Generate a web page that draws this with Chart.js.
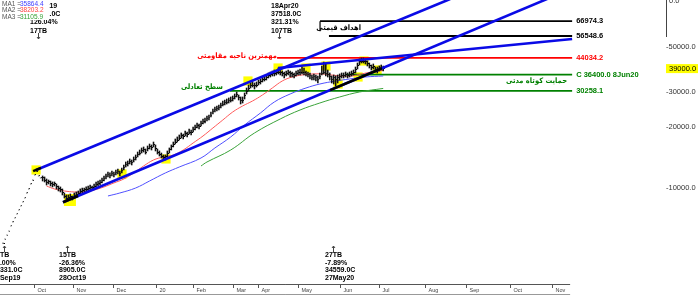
<!DOCTYPE html>
<html>
<head>
<meta charset="utf-8">
<script src="https://cdn.jsdelivr.net/npm/chart.js@4.4.0/dist/chart.umd.min.js"></script>
<style>
body { margin: 0; background: #fff; }
</style>
</head>
<body>
<canvas id="chart" width="700" height="295"></canvas>
<script>
// daily bars, index 0 = the Sep19 low
var closes = [5331,5590,5850,6123,6485,6790,7105,7437,7782,8145,8525,8925,9445,9890,10470,10950,11600,12092,11470,11210,
  11210,10950,10590,10710,10470,10350,10470,10120,9890,9775,9445,9025,8905,8925,9025,8925,9130,9235,9340,9555,
  9665,9775,9775,9890,10000,10000,10120,10350,10470,10590,10830,11080,11340,11600,11470,11730,11600,11870,12000,11730,
  12140,12560,13000,13150,13450,13300,13760,14080,14570,14900,15250,15420,15070,15600,15960,15780,16330,15600,15070,14730,
  14400,14080,14240,14900,15420,15960,16330,16890,17280,17680,18090,17890,18510,18300,18930,18720,19370,19820,20280,20050,
  20740,21220,21460,21960,22210,22980,23780,24330,24610,24890,25470,26050,26350,26650,26960,27265,27580,28220,28870,27900,
  26960,27265,28540,30210,31260,31990,32350,31990,32350,33100,33480,34250,34640,35040,35850,36260,36680,36680,37100,37518,
  37100,36680,36260,36680,37100,36680,36260,35850,36680,37100,37100,37300,37100,36680,36260,35850,35040,35440,35040,34640,
  35440,36680,37100,36680,36260,35440,34559,35040,34640,35040,35440,35850,35850,36260,35850,36260,36680,37100,38385,40180,
  42050,42530,42530,42050,41110,40180,39270,39720,38385,38385,38830,39270,39000];
var highs = [5331,5590,5850,6123,6485,6790,7105,7437,7782,8145,8525,8925,9445,9890,10470,10950,11600,12092,11470,11210,
  11470,11340,11080,10950,10830,10710,10710,10470,10230,10120,9890,9445,9235,9235,9340,9130,9445,9555,9665,9890,
  10000,10000,10120,10230,10350,10230,10470,10710,10830,10950,11210,11470,11730,12000,11870,12140,12000,12280,12420,12140,
  12560,13000,13450,13600,13920,13760,14240,14570,15070,15420,15780,15960,15600,16140,16510,16330,16890,16330,15600,15250,
  14900,14570,14570,15250,15780,16330,16890,17480,17890,18300,18720,18510,19150,18930,19590,19370,20050,20510,20980,20740,
  21460,21960,22210,22720,22980,23780,24610,25180,25470,25760,26350,26960,27265,27580,27900,28220,28540,29200,29870,28870,
  28220,28220,29530,31260,32350,33100,33480,33100,33480,34250,34640,35440,35850,36260,37100,37520,37950,38385,38385,39270,
  38385,37950,37520,37950,38385,37950,37520,37100,37950,38385,38830,39720,39270,37950,37520,37100,36260,36680,36260,35850,
  37100,40180,42050,41110,38385,37100,35850,36260,35850,36260,36680,37100,37100,37520,37100,37520,37950,38385,39720,41580,
  43520,44020,44020,43520,42530,41580,40640,41110,39720,39720,40180,40640,40180];
var lows = [5331,5590,5850,6123,6485,6790,7105,7437,7782,8145,8525,8925,9445,9890,10470,10950,11600,12092,11470,11210,
  10830,10710,10350,10470,10230,10120,10230,9890,9665,9555,9235,8925,8625,8720,8820,8720,8925,9025,9130,9340,
  9445,9555,9555,9665,9775,9775,9890,10120,10230,10350,10590,10830,11080,11340,11210,11470,11340,11600,11730,11470,
  11870,12280,12700,12850,13150,13000,13450,13760,14240,14570,14900,15070,14730,15250,15600,15420,15960,15250,14730,14400,
  14080,13760,13760,14240,14900,15420,15960,16510,16890,17280,17680,17480,18090,17890,18510,18300,18930,19370,19820,19590,
  20280,20740,20980,21460,21710,22470,23250,23780,24050,24330,24890,25470,25760,26050,26350,26650,26960,27580,28220,27265,
  26050,26350,27580,29200,30210,31260,31620,30910,31620,32350,32720,33480,33860,34250,35040,35440,35850,35850,36260,36680,
  36260,35850,35040,35850,36260,35440,35440,35040,35850,36260,36260,36680,36260,35850,35440,34640,34250,34250,33860,33100,
  34640,36260,36680,35850,35440,34250,33100,32720,31990,33100,34250,35040,35040,35440,35040,35440,35850,36260,37100,38830,
  40640,41580,41580,41110,40180,39270,38385,38830,37520,37100,37950,38385,37950];

// moving averages (bar index, value)
var ma1Idx = [53, 59, 67, 74, 82, 89, 100, 107, 115, 122, 130, 137, 145, 153, 160, 168, 175, 183, 192];
var ma1 = [9130, 9445, 10000, 10830, 11870, 12700, 14080, 15780, 17890, 20510, 23510, 26650, 29200, 31260, 32720, 33860, 34640, 35440, 35864.4];
var ma2Idx = [22, 26, 31, 36, 41, 46, 51, 56, 61, 66, 71, 76, 81, 86, 91, 96, 101, 106, 111, 116, 121, 126, 131, 136, 141, 146, 151, 156, 161, 166, 171, 176, 181, 186, 192];
var ma2 = [10230, 9890, 9665, 9555, 9555, 9775, 10120, 10590, 11080, 11870, 12850, 13760, 14240, 14570, 15420, 16700, 18090, 19820, 21710, 23780, 25470, 26960, 28870, 31260, 33860, 35440, 36260, 36680, 36680, 36260, 35850, 35850, 36680, 37520, 38203.2];
var ma3Idx = [100, 103, 115, 127, 140, 150, 160, 170, 180, 192];
var ma3 = [12850, 13450, 15420, 18720, 21960, 24330, 26350, 28220, 29870, 31105.9];

// zigzag turning points
var zzIdx = [0, 17, 32, 139, 166];
var zzText = [
  ['0TB', '0.00%', '5331.0C', '9Sep19'],
  ['02Oct19', '12092.0C', '126.04%', '17TB'],
  ['15TB', '-26.36%', '8905.0C', '28Oct19'],
  ['18Apr20', '37518.0C', '321.31%', '107TB'],
  ['27TB', '-7.89%', '34559.0C', '27May20']
];

// drawn trend lines (bar index, price)
var chanUpper = [[16.7, 12277], [225.8, 86220]];
var chanLower = [[30.3, 8496], [278.8, 89640]];
var resistLine = [[138.9, 39270], [287.4, 54660]];
var blackBits = [
  [[165.2, 30530], [191.4, 39130]],
  [[30.3, 8496], [37.9, 9128]],
  [[15.2, 12120], [19.2, 12574]]
];
var anchorIdx = [16.7, 33.8, 60.1, 82.3, 123.7, 138.9, 153, 163.1, 169.2, 179.3, 182.3, 188.9];
var anchorPrice = [12280, 8720, 11730, 13920, 33860, 39270, 39270, 40180, 32720, 35440, 42530, 38385];

// horizontal levels
var levels = [66974.3, 56548.6, 44034.2, 36400.0, 30258.1];
var levelFrom = [160.1, 164.6, 138.4, 172.7, 114.6];
var levelTo = 287.4;
var levelText = ['66974.3', '56548.6', '44034.2', 'C 36400.0 8Jun20', '30258.1'];
var levelColor = ['#000000', '#000000', '#ff0000', '#008000', '#008000'];

var monthIdx = [15.5, 35.3, 55.5, 77.3, 96, 116, 128.8, 149, 170, 190, 213, 234, 256, 277.3];
var monthLabels = ['Oct', 'Nov', 'Dec', '20', 'Feb', 'Mar', 'Apr', 'May', 'Jun', 'Jul', 'Aug', 'Sep', 'Oct', 'Nov'];
var yTicks = [10000, 20000, 30000, 50000];
var lastPrice = 39000;

function pts(list) {
  return list.map(function (p) { return { x: p[0], y: p[1] }; });
}

// small right-hand tick for the close of each bar
var tick = document.createElement('canvas');
tick.width = 3; tick.height = 1;
var tctx = tick.getContext('2d');
tctx.fillStyle = '#000';
tctx.fillRect(2, 0, 1, 1);

var datasets = [];
datasets.push({
  type: 'line', data: anchorIdx.map(function (x, i) { return { x: x, y: anchorPrice[i] }; }),
  showLine: false, pointStyle: 'rect', backgroundColor: '#ffff00', borderWidth: 0,
  pointRadius: function (c) { return c.dataIndex === 1 ? 8.5 : 6.5; }, order: 100
});
levels.forEach(function (v, i) {
  datasets.push({
    type: 'line', data: [{ x: levelFrom[i], y: v }, { x: levelTo, y: v }],
    borderColor: levelColor[i], borderWidth: 1.8, pointRadius: 0, order: 60
  });
});
datasets.push({ type: 'line', data: ma3Idx.map(function (x, i) { return { x: x, y: ma3[i] }; }), borderColor: '#3aa33a', borderWidth: 1, pointRadius: 0, tension: 0.4, order: 50 });
datasets.push({ type: 'line', data: ma1Idx.map(function (x, i) { return { x: x, y: ma1[i] }; }), borderColor: '#5050ff', borderWidth: 1, pointRadius: 0, tension: 0.4, order: 50 });
datasets.push({ type: 'line', data: ma2Idx.map(function (x, i) { return { x: x, y: ma2[i] }; }), borderColor: '#ff5a5a', borderWidth: 1, pointRadius: 0, tension: 0.4, order: 50 });
datasets.push({
  type: 'bar', data: closes.map(function (c, i) { return { x: i, y: [lows[i], highs[i]] }; }),
  backgroundColor: '#111', borderWidth: 0, barThickness: 0.9, grouped: false, order: 30
});
datasets.push({
  type: 'line', data: closes.map(function (c, i) { return { x: i, y: c }; }),
  showLine: false, pointStyle: tick, pointRadius: 2, order: 29
});
[chanUpper, chanLower, resistLine].forEach(function (l) {
  datasets.push({ type: 'line', data: pts(l), borderColor: '#0a0ae6', borderWidth: 2.6, pointRadius: 0, order: 20 });
});
blackBits.forEach(function (l) {
  datasets.push({ type: 'line', data: pts(l), borderColor: '#000', borderWidth: 2.6, pointRadius: 0, order: 10 });
});

function label(ctx, s, x, y, font, color, align) {
  ctx.font = font;
  ctx.fillStyle = color;
  ctx.textAlign = align || 'left';
  ctx.textBaseline = 'middle';
  ctx.fillText(s, x, y);
}

function arrow(ctx, x, yFrom, yTo) {
  var d = yTo > yFrom ? -1 : 1;
  ctx.strokeStyle = '#444';
  ctx.lineWidth = 1;
  ctx.beginPath();
  ctx.moveTo(x, yFrom); ctx.lineTo(x, yTo);
  ctx.moveTo(x - 1.5, yTo + d * 2); ctx.lineTo(x, yTo); ctx.lineTo(x + 1.5, yTo + d * 2);
  ctx.stroke();
}

var annot = {
  id: 'annot',
  afterDatasetsDraw: function (chart) {
    var ctx = chart.ctx, xs = chart.scales.x, ys = chart.scales.y;
    var bold = 'bold 7px "Liberation Sans"';
    ctx.save();

    // zigzag labels
    zzIdx.forEach(function (i, k) {
      var px = xs.getPixelForValue(i);
      var rows = zzText[k];
      var top = k === 1 || k === 3;
      var x = Math.round(px) - 7;
      var ysTop = [6, 14, 22.5, 31], ysBot = [255, 263, 270.5, 278.5];
      rows.forEach(function (s, r) {
        label(ctx, s, x, top ? ysTop[r] : ysBot[r], bold, '#000');
      });
      var ax = Math.round(px) + 1.5;
      if (top) arrow(ctx, ax, 33, 39); else arrow(ctx, ax, 252, 246);
    });

    // legend box
    ctx.fillStyle = '#fff';
    ctx.fillRect(0, 0, 49, 20);
    var lf = '6.5px "Liberation Sans"';
    [['MA1 = ', '35864.4', '#4040ff'], ['MA2 = ', '38203.2', '#ff4040'], ['MA3 = ', '31105.9', '#33a033']].forEach(function (r, k) {
      label(ctx, r[0], 2, 4 + k * 6.7, lf, '#555');
      label(ctx, r[1], 20, 4 + k * 6.7, lf, r[2]);
    });

    // level labels
    levels.forEach(function (v, i) {
      label(ctx, levelText[i], xs.getPixelForValue(levelTo) + 4, ys.getPixelForValue(v), 'bold 7.5px "Liberation Sans"', levelColor[i]);
    });
    // bracket stub under the first target line
    var t0 = xs.getPixelForValue(levelFrom[0]), ty = ys.getPixelForValue(levels[0]);
    ctx.strokeStyle = '#000';
    ctx.lineWidth = 1.2;
    ctx.beginPath(); ctx.moveTo(t0, ty); ctx.lineTo(t0, ty + 10); ctx.stroke();

    // persian notes
    ctx.direction = 'rtl';
    var fa = 'bold 7.5px "DejaVu Sans Condensed", "DejaVu Sans"';
    label(ctx, 'مهمترین ناحیه مقاومتی', 277, 56, fa, '#ff0000', 'right');
    label(ctx, 'سطح تعادلی', 223, 87, fa, '#008000', 'right');
    label(ctx, 'اهداف قیمتی', 361, 28, fa, '#000', 'right');
    label(ctx, 'حمایت کوتاه مدتی', 567, 81, fa, '#008000', 'right');
    ctx.direction = 'ltr';

    // price axis
    ctx.strokeStyle = '#444';
    ctx.lineWidth = 1;
    ctx.beginPath(); ctx.moveTo(666.5, 0); ctx.lineTo(666.5, 37); ctx.stroke();
    label(ctx, '0.0', 669, 1, '7.5px "Liberation Sans"', '#333');
    yTicks.forEach(function (v) {
      label(ctx, '-' + v.toFixed(1), 666, ys.getPixelForValue(v), '7.5px "Liberation Sans"', '#333');
    });
    var ly = ys.getPixelForValue(lastPrice);
    ctx.fillStyle = '#ffff00';
    ctx.fillRect(666, ly - 4.5, 32, 9);
    label(ctx, lastPrice.toFixed(1), 669, ly, '7.5px "Liberation Sans"', '#000');

    // time axis
    var xEnd = xs.getPixelForValue(levelTo) - 2;
    ctx.strokeStyle = '#555';
    ctx.beginPath(); ctx.moveTo(0, 284.5); ctx.lineTo(xEnd, 284.5); ctx.stroke();
    ctx.strokeStyle = '#999';
    ctx.beginPath(); ctx.moveTo(0, 294.5); ctx.lineTo(xEnd, 294.5); ctx.stroke();
    ctx.strokeStyle = '#555';
    monthIdx.forEach(function (m, i) {
      var x = Math.round(xs.getPixelForValue(m)) + 0.5;
      ctx.beginPath(); ctx.moveTo(x, 284); ctx.lineTo(x, 288); ctx.stroke();
      label(ctx, monthLabels[i], x + 3, 290, '5.5px "Liberation Sans"', '#444');
    });
    ctx.restore();
  }
};

new Chart(document.getElementById('chart').getContext('2d'), {
  type: 'bar',
  data: { datasets: datasets },
  options: {
    responsive: false,
    animation: false,
    devicePixelRatio: 1,
    events: [],
    layout: { autoPadding: false, padding: { left: 0, top: 0, right: 34, bottom: 11 } },
    plugins: { legend: { display: false }, tooltip: { enabled: false } },
    scales: {
      x: { type: 'linear', min: -1.515, max: 334.8, offset: false, display: false },
      y: { type: 'logarithmic', min: 3347, max: 85253, display: false }
    }
  },
  plugins: [annot]
});
</script>
</body>
</html>
